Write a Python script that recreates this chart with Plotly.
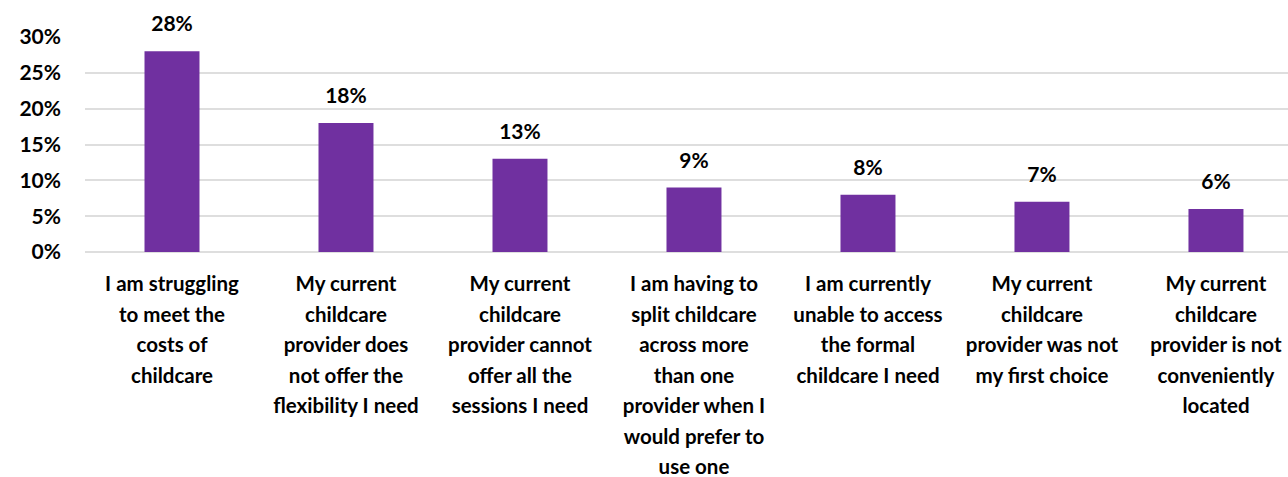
import plotly.graph_objects as go

categories = [
    "I am struggling<br>to meet the<br>costs of<br>childcare",
    "My current<br>childcare<br>provider does<br>not offer the<br>flexibility I need",
    "My current<br>childcare<br>provider cannot<br>offer all the<br>sessions I need",
    "I am having to<br>split childcare<br>across more<br>than one<br>provider when I<br>would prefer to<br>use one",
    "I am currently<br>unable to access<br>the formal<br>childcare I need",
    "My current<br>childcare<br>provider was not<br>my first choice",
    "My current<br>childcare<br>provider is not<br>conveniently<br>located",
]
values = [28, 18, 13, 9, 8, 7, 6]
ytick_vals = [0, 5, 10, 15, 20, 25, 30]
ytick_text = ["0%", "5%", "10%", "15%", "20%", "25%", "30%"]

FONT = "Lato"
PURPLE = "#7030A0"

def wrap_label(lbl):
    return "<br>".join('<span style="font-size:20.5px">' + ln + "</span>" for ln in lbl.split("<br>"))

ticktext = [wrap_label(c) for c in categories]
xs = list(range(len(categories)))

fig = go.Figure()
fig.add_trace(go.Bar(
    x=xs, y=values, width=0.316,
    marker=dict(color=PURPLE, line=dict(width=0)),
    hoverinfo="skip",
))
fig.add_trace(go.Scatter(
    x=xs, y=values, mode="markers+text",
    marker=dict(size=22, opacity=0),
    text=[f"{v}%" for v in values],
    textposition="top center",
    textfont=dict(family=FONT, size=21, color="#000000", weight="bold"),
    cliponaxis=False, hoverinfo="skip",
))

fig.update_layout(
    width=1288, height=477,
    margin=dict(l=85, r=0, t=37, b=225),
    plot_bgcolor="white", paper_bgcolor="white",
    showlegend=False,
    font=dict(family=FONT, color="#000000", weight="bold"),
    bargap=0.5,
)
fig.update_xaxes(
    range=[-0.5, 6.414],
    tickmode="array", tickvals=xs, ticktext=ticktext,
    tickfont=dict(family=FONT, size=23.4, color="#000000", weight="bold"),
    showgrid=False, showline=False, zeroline=False, ticks="",
    tickangle=0, ticklabelstandoff=15, automargin=False,
)
fig.update_yaxes(
    range=[0, 30],
    tickmode="array", tickvals=ytick_vals, ticktext=ytick_text,
    tickfont=dict(family=FONT, size=21, color="#000000", weight="bold"),
    showgrid=True, gridcolor="#dedede", gridwidth=2,
    zeroline=True, zerolinecolor="#dedede", zerolinewidth=2,
    showline=False, ticks="", ticklabelstandoff=23, automargin=False,
)

fig.write_html(
    "out.html",
    config={"displayModeBar": False},
    post_script="document.body.style.margin='0';document.body.style.overflow='hidden';",
)
